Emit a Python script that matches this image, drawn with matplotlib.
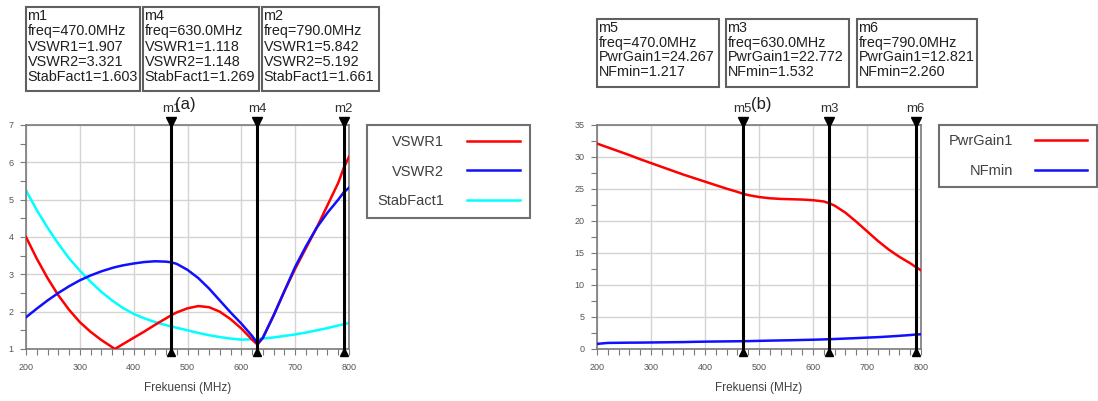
import matplotlib
matplotlib.use("Agg")
import matplotlib.pyplot as plt
import matplotlib.patches as patches
from matplotlib.transforms import offset_copy
from matplotlib.ticker import MultipleLocator

plt.rcParams['font.family'] = ['Liberation Sans', 'DejaVu Sans']

# ---------------- data (a) ----------------
freq_a = [200, 220, 240, 260, 280, 300, 320, 340, 360, 365, 380, 400, 420, 440, 460, 470,
          480, 500, 520, 540, 560, 580, 600, 620, 630, 640, 660, 680, 700, 720, 740, 760,
          780, 790, 800]
vswr1 = [4.0, 3.42, 2.9, 2.44, 2.05, 1.72, 1.46, 1.24, 1.05, 1.0, 1.13, 1.3, 1.47, 1.65, 1.82, 1.907,
         1.98, 2.09, 2.15, 2.12, 2.0, 1.8, 1.55, 1.25, 1.118, 1.3, 1.9, 2.55, 3.15, 3.7, 4.25, 4.85,
         5.45, 5.842, 6.15]
vswr2 = [1.85, 2.08, 2.3, 2.5, 2.68, 2.84, 2.97, 3.08, 3.17, 3.19, 3.24, 3.29, 3.33, 3.35, 3.34, 3.321,
         3.28, 3.12, 2.9, 2.62, 2.3, 1.98, 1.68, 1.35, 1.148, 1.3, 1.9, 2.55, 3.2, 3.75, 4.25, 4.65,
         5.0, 5.192, 5.32]
stab1 = [5.25, 4.72, 4.25, 3.82, 3.43, 3.1, 2.8, 2.53, 2.3, 2.25, 2.1, 1.94, 1.82, 1.72, 1.64, 1.603,
         1.57, 1.5, 1.43, 1.37, 1.32, 1.28, 1.25, 1.26, 1.269, 1.28, 1.31, 1.35, 1.39, 1.44, 1.5, 1.56,
         1.63, 1.661, 1.7]

# ---------------- data (b) ----------------
freq_b = [200, 220, 240, 260, 280, 300, 320, 340, 360, 380, 400, 420, 440, 460, 470, 480, 500,
          520, 540, 560, 580, 600, 620, 630, 640, 660, 680, 700, 720, 740, 760, 780, 790, 800]
pwrgain1 = [32.1, 31.5, 30.9, 30.3, 29.65, 29.05, 28.45, 27.85, 27.25, 26.7, 26.15, 25.6, 25.05, 24.55,
            24.267, 24.05, 23.75, 23.55, 23.45, 23.4, 23.35, 23.25, 23.05, 22.772, 22.4, 21.3, 19.9,
            18.4, 16.9, 15.55, 14.4, 13.4, 12.821, 12.3]
nfmin = [0.8, 0.95, 0.97, 0.99, 1.0, 1.02, 1.04, 1.06, 1.08, 1.12, 1.15, 1.17, 1.19, 1.21, 1.217,
         1.23, 1.27, 1.31, 1.34, 1.37, 1.41, 1.45, 1.5, 1.532, 1.56, 1.63, 1.7, 1.78, 1.85, 1.95,
         2.06, 2.18, 2.26, 2.3]

markers_a = [("m1", 470), ("m4", 630), ("m2", 790)]
markers_b = [("m5", 470), ("m3", 630), ("m6", 790)]

box_a = [
    "m1\nfreq=470.0MHz\nVSWR1=1.907\nVSWR2=3.321\nStabFact1=1.603",
    "m4\nfreq=630.0MHz\nVSWR1=1.118\nVSWR2=1.148\nStabFact1=1.269",
    "m2\nfreq=790.0MHz\nVSWR1=5.842\nVSWR2=5.192\nStabFact1=1.661",
]
box_b = [
    "m5\nfreq=470.0MHz\nPwrGain1=24.267\nNFmin=1.217",
    "m3\nfreq=630.0MHz\nPwrGain1=22.772\nNFmin=1.532",
    "m6\nfreq=790.0MHz\nPwrGain1=12.821\nNFmin=2.260",
]

W, H = 1098, 401
fig = plt.figure(figsize=(W / 100, H / 100), dpi=100)


def fx(px):
    return px / W


def fy(py):
    return 1 - py / H


def make_axes(x0, x1, y0, y1):
    return fig.add_axes([fx(x0), fy(y1), fx(x1 - x0), (y1 - y0) / H])


gray = '#7a7a7a'
tickcol = '#555555'


def style(ax, ylim, ymaj, ymin):
    ax.set_xlim(200, 800)
    ax.set_ylim(*ylim)
    ax.xaxis.set_major_locator(MultipleLocator(100))
    ax.xaxis.set_minor_locator(MultipleLocator(20))
    ax.yaxis.set_major_locator(MultipleLocator(ymaj))
    ax.yaxis.set_minor_locator(MultipleLocator(ymin))
    ax.grid(True, which='major', color='#d4d4d4', lw=1.0)
    ax.set_axisbelow(True)
    for s in ax.spines.values():
        s.set_color(gray)
        s.set_linewidth(1.2)
    ax.tick_params(which='major', direction='out', length=4, width=0.8, color=gray,
                   labelsize=6.5, labelcolor=tickcol)
    ax.tick_params(which='minor', direction='out', length=4, width=0.8, color=gray)
    ax.tick_params(axis='x', which='major', pad=6)
    ax.tick_params(axis='y', which='major', pad=5)
    ax.set_xlabel("Frekuensi (MHz)", fontsize=8.5, color='#404040', labelpad=7)


def draw_markers(ax, markers):
    top_tr = offset_copy(ax.transData, fig=fig, y=3, units='dots')
    bot_tr = offset_copy(ax.transData, fig=fig, y=-3, units='dots')
    lab_tr = offset_copy(ax.transData, fig=fig, y=10, units='dots')
    y0, y1 = ax.get_ylim()
    for name, f in markers:
        ax.plot([f, f], [y0, y1], color='black', lw=2.2, zorder=5, clip_on=False)
        ax.plot([f], [y1], marker='v', ms=6.5, color='black', transform=top_tr,
                clip_on=False, zorder=6)
        ax.plot([f], [y0], marker='^', ms=6, color='black', transform=bot_tr,
                clip_on=False, zorder=6)
        ax.text(f, y1, name, transform=lab_tr, ha='center', va='bottom',
                fontsize=9.5, color='#303030')


def draw_boxes(boxes, rects, size, linesp):
    for txt, (x0, y0, x1, y1) in zip(boxes, rects):
        fig.patches.append(patches.Rectangle((fx(x0), fy(y1)), fx(x1 - x0), (y1 - y0) / H,
                                             transform=fig.transFigure, fill=False,
                                             ec='#606060', lw=1.5))
        fig.text(fx(x0 + 1.5), fy(y0 + 2), txt, ha='left', va='top', fontsize=size,
                 color='#202020', linespacing=linesp)


def finish_legend(lg):
    lg.get_frame().set_linewidth(1.5)
    for t in lg.get_texts():
        t.set_color('#404040')


# ---------- panel (a) ----------
axa = make_axes(26, 349, 125, 349)
style(axa, (1, 7), 1, 0.5)
axa.plot(freq_a, vswr1, color='#ff0000', lw=1.8, label='VSWR1', zorder=3)
axa.plot(freq_a, vswr2, color='#1010ff', lw=1.8, label='VSWR2', zorder=3)
axa.plot(freq_a, stab1, color='#00ffff', lw=1.8, label='StabFact1', zorder=2)
draw_markers(axa, markers_a)
fig.text(fx(185), fy(105), "(a)", ha='center', va='center', fontsize=12, color='#202020')

leg = axa.legend(loc='upper left', bbox_to_anchor=(fx(367), fy(125)),
                 bbox_transform=fig.transFigure, borderaxespad=0, markerfirst=False,
                 fontsize=10.5, handlelength=3.6, handletextpad=1.6, labelspacing=1.05,
                 borderpad=0.7, fancybox=False, framealpha=1, edgecolor='#707070')
finish_legend(leg)

draw_boxes(box_a, [(26, 7, 140, 91), (143, 7, 259, 91), (262, 7, 379, 91)], 10.4, 1.12)

# ---------- panel (b) ----------
axb = make_axes(597, 921, 125, 349)
style(axb, (0, 35), 5, 2.5)
axb.plot(freq_b, pwrgain1, color='#ff0000', lw=1.8, label='PwrGain1', zorder=3)
axb.plot(freq_b, nfmin, color='#1010ff', lw=1.8, label='NFmin', zorder=3)
draw_markers(axb, markers_b)
fig.text(fx(761), fy(105), "(b)", ha='center', va='center', fontsize=12, color='#202020')

legb = axb.legend(loc='upper left', bbox_to_anchor=(fx(939), fy(125)),
                  bbox_transform=fig.transFigure, borderaxespad=0, markerfirst=False,
                  fontsize=10.5, handlelength=3.6, handletextpad=1.5, labelspacing=1.05,
                  borderpad=0.65, fancybox=False, framealpha=1, edgecolor='#707070')
finish_legend(legb)

draw_boxes(box_b, [(597, 19, 719, 87), (726, 19, 849, 87), (857, 19, 977, 87)], 10.4, 1.05)

fig.savefig("out.png", dpi=100)
